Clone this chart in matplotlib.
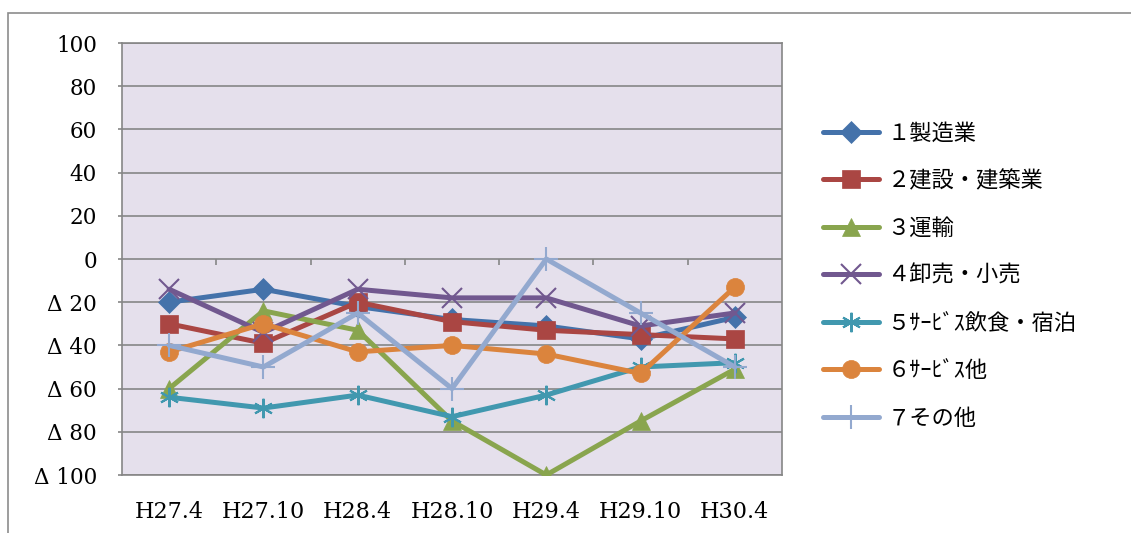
import matplotlib
matplotlib.use("Agg")
import matplotlib.pyplot as plt
from matplotlib.patches import Rectangle

plt.rcParams['font.family'] = ['DejaVu Serif', 'Noto Sans CJK JP', 'DejaVu Sans']

categories = ["H27.4", "H27.10", "H28.4", "H28.10", "H29.4", "H29.10", "H30.4"]
s1 = [-20, -14, -22, -28, -31, -37, -27]
s2 = [-30, -39, -20, -29, -33, -35, -37]
s3 = [-60, -24, -33, -75, -100, -75, -51]
s4 = [-14, -34, -14, -18, -18, -31, -25]
s5 = [-64, -69, -63, -73, -63, -50, -48]
s6 = [-43, -30, -43, -40, -44, -53, -13]
s7 = [-40, -50, -25, -60, 0, -25, -50]
labels = ["１製造業", "２建設・建築業", "３運輸", "４卸売・小売",
          "５ｻｰﾋﾞｽ飲食・宿泊", "６ｻｰﾋﾞｽ他", "７その他"]
yticks = [100, 80, 60, 40, 20, 0, -20, -40, -60, -80, -100]
yticklabels = ["100", "80", "60", "40", "20", "0", "Δ 20", "Δ 40", "Δ 60", "Δ 80", "Δ 100"]

colors = ["#4472AA", "#AA4643", "#89A54E", "#71588F", "#4198AF", "#DB843D", "#93A9CF"]
markers = ["D", "s", "^", "x", (6, 2, 0), "o", "+"]
msizes = [11, 13, 13, 14, 14, 13, 17]
series = [s1, s2, s3, s4, s5, s6, s7]

fig = plt.figure(figsize=(11.31, 5.33), dpi=100)
fig.patches.append(Rectangle((8/1131, -0.1), 1.2, (520/533) + 0.1, transform=fig.transFigure,
                             fill=False, edgecolor="#8C8C8C", linewidth=1.2))
ax = fig.add_axes([122/1131, 58/533, 660/1131, 432/533])
ax.set_facecolor("#E5E0EC")

x = list(range(len(categories)))
for i, (vals, c, m, ms, lab) in enumerate(zip(series, colors, markers, msizes, labels)):
    thin = m in ("x", "+") or isinstance(m, tuple)
    ax.plot(x, vals, color=c, lw=3.6, marker=m, markersize=ms,
            markeredgewidth=1.5 if thin else 0.5, markerfacecolor=c,
            markeredgecolor=c, label=lab, zorder=3 + i, solid_capstyle='round')

ax.set_xlim(-0.5, len(categories) - 0.5)
ax.set_ylim(-100, 100)
ax.set_yticks(yticks)
ax.set_yticklabels(yticklabels)
ax.set_xticks(x)
ax.set_xticklabels(categories)
ax.yaxis.grid(True, color="#868686", lw=1.2)
ax.set_axisbelow(True)
ax.tick_params(axis='x', length=0, pad=19, labelsize=16)
ax.tick_params(axis='y', length=3, width=1.2, color="#868686", pad=15, labelsize=15.5)
for sp in ax.spines.values():
    sp.set_color("#868686")
    sp.set_linewidth(1.2)

# category-boundary tick marks on the horizontal axis crossing at 0
boundaries = [i + 0.5 for i in range(len(categories) - 1)]
ax.vlines(boundaries, -3, 0, colors="#868686", lw=1.2, zorder=2)

leg = fig.legend(loc='center left', bbox_to_anchor=(803/1131, 257/533), frameon=False,
                 fontsize=16, handlelength=2.5, labelspacing=1.15, handletextpad=0.4)

fig.savefig("out.png", dpi=100)
